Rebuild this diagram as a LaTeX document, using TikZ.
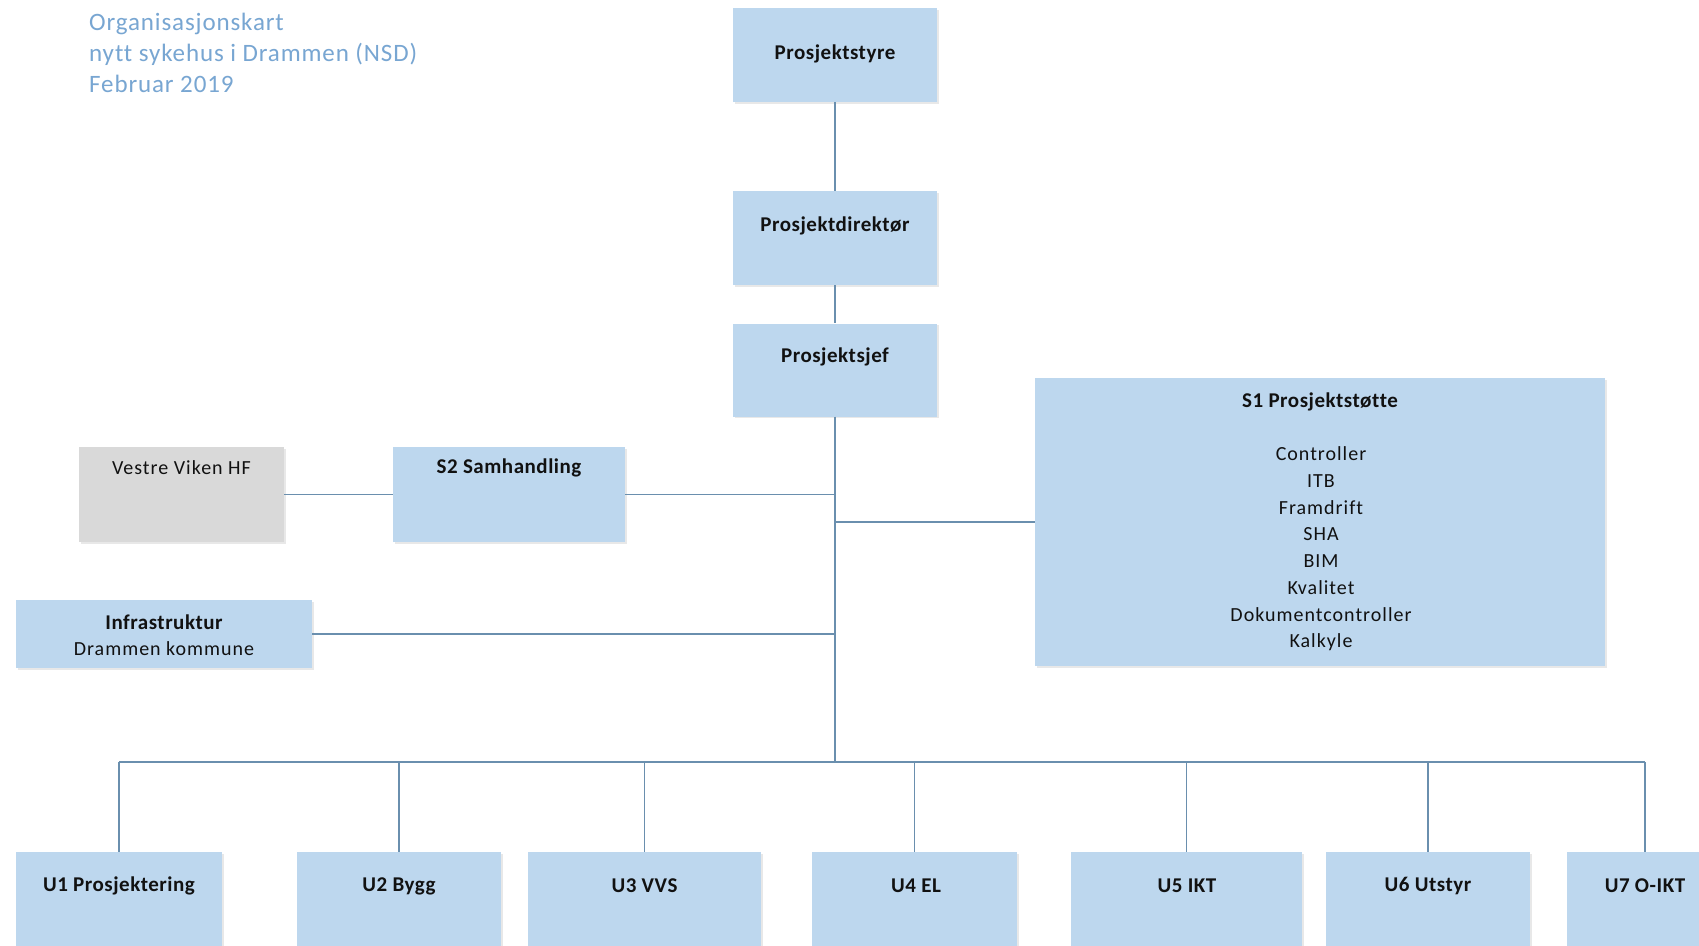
\documentclass[tikz,border=0pt]{standalone}
\usepackage{fontspec}
\setmainfont{Carlito}
\newfontfamily\plainsp[LetterSpace=5,Ligatures=NoCommon]{Carlito}
\newfontfamily\titlesp[LetterSpace=3.5,Ligatures=NoCommon]{Carlito}
\newfontfamily\boldsp[LetterSpace=2.5,Ligatures=NoCommon]{Carlito}
\usetikzlibrary{shadows}
\definecolor{boxblue}{HTML}{BDD7EE}
\definecolor{boxgray}{HTML}{D9D9D9}
\definecolor{linecol}{HTML}{6A8FAE}
\definecolor{titlecol}{HTML}{78A6D2}
\definecolor{txtcol}{HTML}{111111}
\tikzset{
  orgbox/.style={rectangle, fill=boxblue, draw=none, inner sep=0pt,
    drop shadow={opacity=0.18, shadow xshift=1.5pt, shadow yshift=-1.5pt}},
  graybox/.style={orgbox, fill=boxgray},
  boxtext/.style={text=txtcol, font=\boldsp\fontsize{21}{25}\selectfont\bfseries, inner sep=0pt},
  plaintext/.style={text=txtcol, font=\plainsp\fontsize{20}{26.7}\selectfont, inner sep=0pt},
  titletext/.style={text=titlecol, font=\titlesp\fontsize{25}{31}\selectfont, inner sep=0pt, anchor=base west},
  conn/.style={draw=linecol, line width=1.4pt}
}
\begin{document}
\begin{tikzpicture}[x=1pt,y=-1pt]
\useasboundingbox (0,0) rectangle (1699,945);
\clip (0,0) rectangle (1699,945);
\fill[white] (0,0) rectangle (1699,945);

% title
\node[titletext] (t1) at (89,30) {Organisasjonskart};
\node[titletext] (t2) at (89,61) {nytt sykehus i Drammen (NSD)};
\node[titletext] (t3) at (89,92) {Februar 2019};

% boxes
\node[orgbox, minimum width=204pt, minimum height=94pt] (styre) at (835,55) {};
\node[boxtext] (styreT) at (835,54) {Prosjektstyre};
\node[orgbox, minimum width=204pt, minimum height=94pt] (dir) at (835,238) {};
\node[boxtext] (dirT) at (835,226) {Prosjektdirektør};
\node[orgbox, minimum width=204pt, minimum height=93pt] (sjef) at (835,370) {};
\node[boxtext] (sjefT) at (835,357) {Prosjektsjef};

\node[orgbox, minimum width=570pt, minimum height=288pt] (s1) at (1320,522) {};
\node[boxtext] (s1T) at (1320,402) {S1 Prosjektstøtte};
\node[plaintext, align=center] (s1L) at (1321,549) {Controller\\ITB\\Framdrift\\SHA\\BIM\\Kvalitet\\Dokumentcontroller\\Kalkyle};

\node[graybox, minimum width=205pt, minimum height=95pt] (vv) at (181.5,494.5) {};
\node[plaintext] (vvT) at (181.5,468) {Vestre Viken HF};
\node[orgbox, minimum width=232pt, minimum height=95pt] (s2) at (509,494.5) {};
\node[boxtext] (s2T) at (509,468) {S2 Samhandling};

\node[orgbox, minimum width=296pt, minimum height=68pt] (infra) at (164,634) {};
\node[boxtext] (infraT) at (164,622) {Infrastruktur};
\node[plaintext] (infraT2) at (164,649) {Drammen kommune};

% bottom units
\node[orgbox, minimum width=206pt, minimum height=100pt] (u1) at (119,902) {};
\node[boxtext] (u1T) at (119,886) {U1 Prosjektering};
\node[orgbox, minimum width=204pt, minimum height=100pt] (u2) at (399,902) {};
\node[boxtext] (u2T) at (399,886) {U2 Bygg};
\node[orgbox, minimum width=233pt, minimum height=100pt] (u3) at (644.5,902) {};
\node[boxtext] (u3T) at (644.5,886) {U3 VVS};
\node[orgbox, minimum width=205pt, minimum height=100pt] (u4) at (914.5,902) {};
\node[boxtext] (u4T) at (916,886) {U4 EL};
\node[orgbox, minimum width=231pt, minimum height=100pt] (u5) at (1186.5,902) {};
\node[boxtext] (u5T) at (1187,886) {U5 IKT};
\node[orgbox, minimum width=204pt, minimum height=100pt] (u6) at (1428,902) {};
\node[boxtext] (u6T) at (1428,886) {U6 Utstyr};
\node[orgbox, minimum width=156pt, minimum height=100pt] (u7) at (1645,902) {};
\node[boxtext] (u7T) at (1645,886) {U7 O-IKT};

% connectors
\coordinate (bus) at (835,762);
\draw[conn] (styre.south) -- (dir.north);
\draw[conn] (dir.south) -- (sjef.north);
\draw[conn] (sjef.south) -- (bus);
\draw[conn] (vv.east) -- (s2.west);
\draw[conn] (s2.east) -- (sjef.south |- s2.east);
\draw[conn] (sjef.south |- s1.west) -- (s1.west);
\draw[conn] (infra.east) -- (sjef.south |- infra.east);
\draw[conn] (u1.north |- bus) -- (u7.north |- bus);
\foreach \u in {u1,u2,u3,u4,u5,u6,u7}{
  \draw[conn] (\u.north |- bus) -- (\u.north);
}
\end{tikzpicture}
\end{document}
